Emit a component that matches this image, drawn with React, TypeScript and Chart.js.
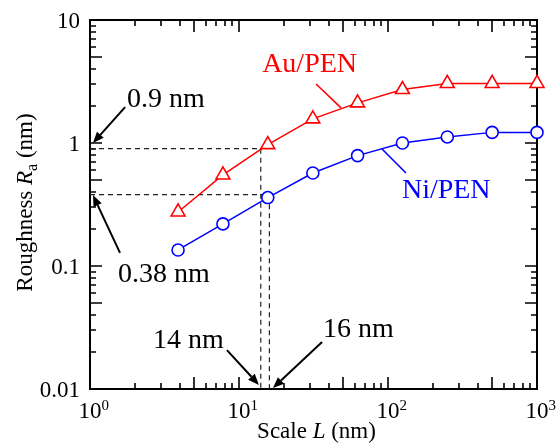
import React, { useEffect, useRef } from "react";
import { Chart, registerables } from "chart.js";

Chart.register(...registerables);

// ---- data ----
const scaleL = [3.9, 7.8, 15.6, 31.3, 62.5, 125, 250, 500, 1000];
const auPEN = [0.275, 0.55, 0.97, 1.57, 2.12, 2.72, 3.05, 3.05, 3.05];
const niPEN = [0.135, 0.22, 0.36, 0.57, 0.79, 1.0, 1.12, 1.22, 1.22];

const xTickExps = [0, 1, 2, 3];
const yTickValues = [0.01, 0.1, 1, 10];
const yTickLabels = ["0.01", "0.1", "1", "10"];

// guide values
const guideL = [14, 16];
const guideRa = [0.9, 0.38];

// annotation texts / arrows (data coordinates)
const annTexts = ["0.9 nm", "0.38 nm", "14 nm", "16 nm"];
const annTextX = [1.77, 1.54, 2.65, 36.6];
const annTextY = [1.96, 0.0741, 0.0216, 0.0265];
const arrowFromX = [1.72, 1.59, 8.3, 36.1];
const arrowFromY = [1.96, 0.128, 0.0207, 0.0241];
const arrowToX = [1.047, 1.047, 13.6, 16.9];
const arrowToY = [1.0, 0.377, 0.0108, 0.0102];

const seriesNames = ["Au/PEN", "Ni/PEN"];
const seriesColors = ["#ff0000", "#0000ff"];
const seriesLabelX = [14.3, 124];
const seriesLabelY = [3.78, 0.357];
const leaderFromX = [32.9, 91.2];
const leaderFromY = [3.02, 0.894];
const leaderToX = [48.4, 132];
const leaderToY = [1.93, 0.57];

const FONT = '"Liberation Serif", "Times New Roman", serif';

function drawPieces(
  ctx: CanvasRenderingContext2D,
  pieces: { t: string; f: string; dy?: number }[],
  cx: number,
  y: number
) {
  let total = 0;
  for (const p of pieces) {
    ctx.font = p.f;
    total += ctx.measureText(p.t).width;
  }
  let x = cx - total / 2;
  for (const p of pieces) {
    ctx.font = p.f;
    ctx.fillText(p.t, x, y + (p.dy || 0));
    x += ctx.measureText(p.t).width;
  }
}

function arrow(ctx: CanvasRenderingContext2D, x1: number, y1: number, x2: number, y2: number) {
  const ang = Math.atan2(y2 - y1, x2 - x1);
  const hl = 11;
  const hw = 4.5;
  const bx = x2 - Math.cos(ang) * hl;
  const by = y2 - Math.sin(ang) * hl;
  ctx.beginPath();
  ctx.moveTo(x1, y1);
  ctx.lineTo(bx, by);
  ctx.stroke();
  ctx.beginPath();
  ctx.moveTo(x2, y2);
  ctx.lineTo(bx + Math.sin(ang) * hw, by - Math.cos(ang) * hw);
  ctx.lineTo(bx - Math.sin(ang) * hw, by + Math.cos(ang) * hw);
  ctx.closePath();
  ctx.fill();
}

const framePlugin = {
  id: "frameTicks",
  beforeDatasetsDraw(chart: any) {
    const { ctx, chartArea: a, scales } = chart;
    const xs = scales.x;
    const ys = scales.y;
    ctx.save();
    ctx.strokeStyle = "#000";
    ctx.lineWidth = 2;
    ctx.strokeRect(a.left, a.top, a.right - a.left, a.bottom - a.top);
    ctx.lineWidth = 1.6;
    for (let d = 0; d < 3; d++) {
      for (let m = 1; m <= 9; m++) {
        const v = m * Math.pow(10, d);
        const px = Math.round(xs.getPixelForValue(v));
        const len = m === 1 || m === 5 ? 12 : 6;
        ctx.beginPath();
        ctx.moveTo(px, a.bottom);
        ctx.lineTo(px, a.bottom - len);
        ctx.moveTo(px, a.top);
        ctx.lineTo(px, a.top + len);
        ctx.stroke();
      }
    }
    for (let d = -2; d < 1; d++) {
      for (let m = 1; m <= 9; m++) {
        const v = m * Math.pow(10, d);
        const py = Math.round(ys.getPixelForValue(v));
        const len = m === 1 || m === 5 ? 12 : 6;
        ctx.beginPath();
        ctx.moveTo(a.left, py);
        ctx.lineTo(a.left + len, py);
        ctx.moveTo(a.right, py);
        ctx.lineTo(a.right - len, py);
        ctx.stroke();
      }
    }
    ctx.restore();
  },
  afterDatasetsDraw(chart: any) {
    const { ctx, chartArea: a, scales } = chart;
    const xs = scales.x;
    const ys = scales.y;
    ctx.save();
    ctx.fillStyle = "#000";
    ctx.textBaseline = "alphabetic";
    // x tick labels 10^n
    for (const e of xTickExps) {
      const px = xs.getPixelForValue(Math.pow(10, e));
      ctx.font = `23px ${FONT}`;
      const w = ctx.measureText("10").width;
      ctx.textAlign = "left";
      ctx.fillText("10", px - w / 2, a.bottom + 29);
      ctx.font = `15px ${FONT}`;
      ctx.fillText(String(e), px + w / 2, a.bottom + 21);
    }
    // y tick labels
    ctx.font = `23px ${FONT}`;
    ctx.textAlign = "right";
    yTickValues.forEach((v, i) => {
      const py = ys.getPixelForValue(v);
      ctx.fillText(yTickLabels[i], a.left - 10, py + 8);
    });
    // axis titles
    ctx.textAlign = "left";
    drawPieces(
      ctx,
      [
        { t: "Scale ", f: `23px ${FONT}` },
        { t: "L", f: `italic 23px ${FONT}` },
        { t: " (nm)", f: `23px ${FONT}` },
      ],
      (a.left + a.right) / 2 + 3,
      a.bottom + 49
    );
    ctx.save();
    ctx.translate(32, (a.top + a.bottom) / 2 - 2);
    ctx.rotate(-Math.PI / 2);
    drawPieces(
      ctx,
      [
        { t: "Roughness ", f: `23px ${FONT}` },
        { t: "R", f: `italic 23px ${FONT}` },
        { t: "a", f: `16px ${FONT}`, dy: 5 },
        { t: " (nm)", f: `23px ${FONT}` },
      ],
      0,
      0
    );
    ctx.restore();

    // annotations
    ctx.strokeStyle = "#000";
    ctx.fillStyle = "#000";
    ctx.lineWidth = 2;
    ctx.font = `28px ${FONT}`;
    ctx.textAlign = "left";
    annTexts.forEach((t, i) => {
      ctx.fillText(t, xs.getPixelForValue(annTextX[i]), ys.getPixelForValue(annTextY[i]));
      arrow(
        ctx,
        xs.getPixelForValue(arrowFromX[i]),
        ys.getPixelForValue(arrowFromY[i]),
        xs.getPixelForValue(arrowToX[i]),
        ys.getPixelForValue(arrowToY[i])
      );
    });
    // series labels
    seriesNames.forEach((n, i) => {
      ctx.fillStyle = seriesColors[i];
      ctx.strokeStyle = seriesColors[i];
      ctx.lineWidth = 1.6;
      ctx.fillText(n, xs.getPixelForValue(seriesLabelX[i]), ys.getPixelForValue(seriesLabelY[i]));
      ctx.beginPath();
      ctx.moveTo(xs.getPixelForValue(leaderFromX[i]), ys.getPixelForValue(leaderFromY[i]));
      ctx.lineTo(xs.getPixelForValue(leaderToX[i]), ys.getPixelForValue(leaderToY[i]));
      ctx.stroke();
    });
    ctx.restore();
  },
};

export default function App() {
  const ref = useRef<HTMLCanvasElement | null>(null);
  useEffect(() => {
    if (!ref.current) return;
    const guides = guideL.map((L, i) => ({
      type: "line" as const,
      data: [
        { x: 1, y: guideRa[i] },
        { x: L, y: guideRa[i] },
        { x: L, y: 0.01 },
      ],
      borderColor: "#222",
      borderWidth: 1.2,
      borderDash: [5, 4],
      pointRadius: 0,
      fill: false,
      tension: 0,
    }));
    const chart = new Chart(ref.current, {
      type: "scatter",
      data: {
        datasets: [
          {
            label: seriesNames[0],
            data: scaleL.map((x, i) => ({ x, y: auPEN[i] })),
            showLine: true,
            borderColor: seriesColors[0],
            borderWidth: 1.5,
            pointStyle: "triangle",
            pointRadius: 8,
            pointBorderWidth: 1.6,
            pointBackgroundColor: "#fff",
            pointBorderColor: seriesColors[0],
            clip: false,
          },
          {
            label: seriesNames[1],
            data: scaleL.map((x, i) => ({ x, y: niPEN[i] })),
            showLine: true,
            borderColor: seriesColors[1],
            borderWidth: 1.5,
            pointStyle: "circle",
            pointRadius: 6,
            pointBorderWidth: 1.6,
            pointBackgroundColor: "#fff",
            pointBorderColor: seriesColors[1],
            clip: false,
          },
          ...guides,
        ] as any,
      },
      options: {
        animation: false,
        responsive: false,
        maintainAspectRatio: false,
        devicePixelRatio: 1,
        layout: { padding: { left: 90, top: 20, right: 20, bottom: 58 } },
        scales: {
          x: { type: "logarithmic", min: 1, max: 1000, display: false },
          y: { type: "logarithmic", min: 0.01, max: 10, display: false },
        },
        plugins: { legend: { display: false }, tooltip: { enabled: false } },
        events: [],
      } as any,
      plugins: [framePlugin],
    });
    return () => chart.destroy();
  }, []);
  return (
    <div style={{ position: "absolute", left: 0, top: 0, width: 557, height: 447, background: "#fff" }}>
      <canvas ref={ref} width={557} height={447} style={{ display: "block" }} />
    </div>
  );
}
